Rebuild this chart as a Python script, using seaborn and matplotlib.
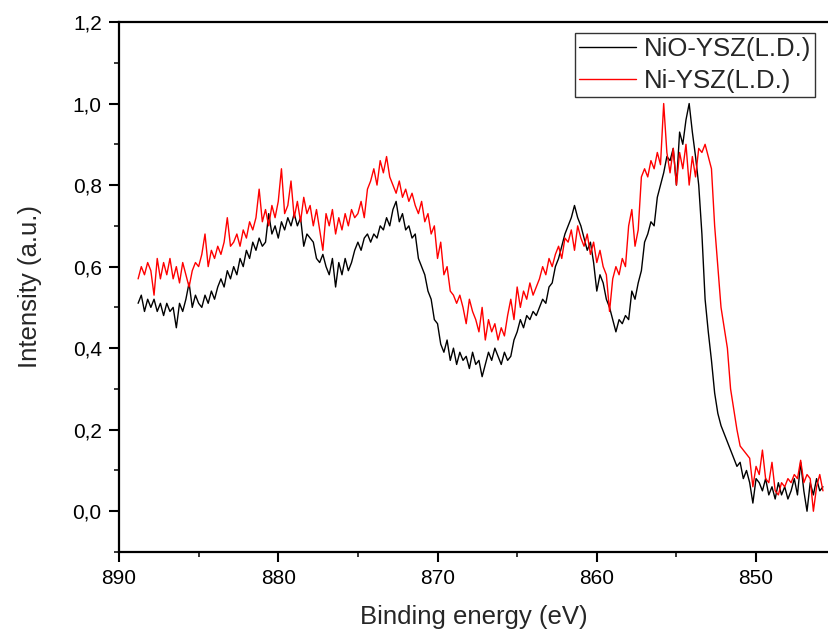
import numpy as np
import pandas as pd
import matplotlib
matplotlib.use("Agg")
import matplotlib.pyplot as plt
from matplotlib.ticker import MultipleLocator, FuncFormatter
import seaborn as sns

# Binding energy grid (eV), 0.2 eV step from 888.8 down to 845.8
energy = np.round(888.8 - 0.2 * np.arange(216), 1)

nio_ysz = [
    0.51, 0.53, 0.49, 0.52, 0.50, 0.52, 0.49, 0.51, 0.48, 0.51,
    0.49, 0.50, 0.45, 0.51, 0.49, 0.52, 0.56, 0.50, 0.53, 0.51,
    0.50, 0.53, 0.51, 0.54, 0.52, 0.55, 0.57, 0.55, 0.59, 0.57,
    0.60, 0.58, 0.62, 0.60, 0.64, 0.62, 0.66, 0.64, 0.67, 0.65,
    0.66, 0.73, 0.68, 0.70, 0.67, 0.71, 0.69, 0.72, 0.70, 0.73,
    0.70, 0.72, 0.65, 0.68, 0.67, 0.66, 0.62, 0.61, 0.63, 0.60,
    0.58, 0.62, 0.55, 0.61, 0.58, 0.62, 0.59, 0.61, 0.64, 0.66,
    0.64, 0.67, 0.68, 0.66, 0.68, 0.67, 0.70, 0.69, 0.72, 0.70,
    0.74, 0.76, 0.71, 0.73, 0.69, 0.70, 0.67, 0.68, 0.62, 0.60,
    0.58, 0.54, 0.52, 0.47, 0.46, 0.41, 0.39, 0.42, 0.37, 0.40,
    0.36, 0.39, 0.37, 0.38, 0.35, 0.39, 0.36, 0.37, 0.33, 0.36,
    0.39, 0.37, 0.40, 0.38, 0.36, 0.39, 0.37, 0.38, 0.42, 0.44,
    0.47, 0.45, 0.48, 0.47, 0.49, 0.48, 0.50, 0.52, 0.51, 0.55,
    0.56, 0.60, 0.62, 0.65, 0.68, 0.70, 0.72, 0.75, 0.72, 0.70,
    0.67, 0.64, 0.66, 0.61, 0.54, 0.58, 0.56, 0.52, 0.50, 0.47,
    0.44, 0.47, 0.46, 0.48, 0.47, 0.54, 0.52, 0.56, 0.59, 0.66,
    0.68, 0.71, 0.70, 0.77, 0.80, 0.83, 0.87, 0.86, 0.89, 0.80,
    0.93, 0.90, 0.96, 1.00, 0.93, 0.87, 0.80, 0.68, 0.52, 0.44,
    0.37, 0.29, 0.24, 0.21, 0.19, 0.17, 0.15, 0.13, 0.11, 0.12,
    0.08, 0.10, 0.07, 0.02, 0.08, 0.07, 0.05, 0.08, 0.04, 0.06,
    0.03, 0.07, 0.04, 0.06, 0.03, 0.05, 0.08, 0.04, 0.12, 0.05,
    0.00, 0.07, 0.04, 0.08, 0.05, 0.06,
]

ni_ysz = [
    0.57, 0.60, 0.58, 0.61, 0.59, 0.53, 0.62, 0.57, 0.61, 0.58,
    0.62, 0.57, 0.60, 0.56, 0.61, 0.58, 0.55, 0.59, 0.61, 0.60,
    0.63, 0.68, 0.60, 0.64, 0.62, 0.65, 0.63, 0.66, 0.72, 0.65,
    0.66, 0.68, 0.65, 0.69, 0.67, 0.71, 0.69, 0.72, 0.79, 0.71,
    0.74, 0.70, 0.75, 0.72, 0.76, 0.84, 0.73, 0.75, 0.81, 0.72,
    0.76, 0.71, 0.77, 0.73, 0.75, 0.70, 0.74, 0.69, 0.64, 0.73,
    0.70, 0.74, 0.68, 0.72, 0.69, 0.73, 0.70, 0.74, 0.72, 0.73,
    0.76, 0.72, 0.79, 0.81, 0.84, 0.80, 0.86, 0.83, 0.87, 0.82,
    0.80, 0.78, 0.81, 0.77, 0.79, 0.76, 0.78, 0.75, 0.73, 0.76,
    0.71, 0.73, 0.68, 0.70, 0.62, 0.66, 0.58, 0.60, 0.54, 0.53,
    0.51, 0.53, 0.50, 0.46, 0.52, 0.49, 0.47, 0.44, 0.50, 0.42,
    0.47, 0.44, 0.46, 0.42, 0.45, 0.43, 0.48, 0.52, 0.47, 0.55,
    0.50, 0.54, 0.52, 0.56, 0.53, 0.55, 0.57, 0.60, 0.58, 0.62,
    0.60, 0.63, 0.65, 0.62, 0.67, 0.66, 0.69, 0.64, 0.70, 0.67,
    0.65, 0.68, 0.63, 0.66, 0.61, 0.64, 0.60, 0.58, 0.49, 0.57,
    0.60, 0.58, 0.62, 0.60, 0.70, 0.74, 0.65, 0.69, 0.82, 0.84,
    0.82, 0.86, 0.84, 0.88, 0.85, 1.00, 0.88, 0.83, 0.89, 0.80,
    0.88, 0.84, 0.90, 0.80, 0.87, 0.82, 0.89, 0.88, 0.90, 0.87,
    0.84, 0.70, 0.60, 0.50, 0.45, 0.40, 0.30, 0.25, 0.20, 0.16,
    0.15, 0.14, 0.13, 0.06, 0.11, 0.09, 0.15, 0.08, 0.07, 0.12,
    0.05, 0.04, 0.07, 0.06, 0.08, 0.07, 0.09, 0.08, 0.125, 0.07,
    0.09, 0.08, 0.00, 0.06, 0.09, 0.05,
]

series_names = ["NiO-YSZ(L.D.)", "Ni-YSZ(L.D.)"]
series_colors = ["#000000", "#ff0000"]
x_label = "Binding energy (eV)"
y_label = "Intensity (a.u.)"

df = pd.concat([
    pd.DataFrame({"E": energy, "I": nio_ysz, "s": series_names[0]}),
    pd.DataFrame({"E": energy, "I": ni_ysz, "s": series_names[1]}),
])

sns.set_style("ticks")
plt.rcParams["font.family"] = ["Liberation Sans", "DejaVu Sans"]

fig = plt.figure(figsize=(8.29, 6.34), dpi=100)
ax = fig.add_axes([119 / 829, 1 - 552 / 634, 1 - 119 / 829, 530 / 634])

sns.lineplot(data=df, x="E", y="I", hue="s", palette=series_colors,
             hue_order=series_names, linewidth=1.0, ax=ax, sort=False,
             estimator=None)

ax.set_xlim(890, 845.42)
ax.set_ylim(-0.1, 1.2)
ax.xaxis.set_major_locator(MultipleLocator(10))
ax.xaxis.set_minor_locator(MultipleLocator(5))
ax.yaxis.set_major_locator(MultipleLocator(0.2))
ax.yaxis.set_minor_locator(MultipleLocator(0.1))
ax.yaxis.set_major_formatter(FuncFormatter(lambda v, p: f"{v:.1f}".replace(".", ",")))
ax.xaxis.set_major_formatter(FuncFormatter(lambda v, p: f"{v:.0f}"))

for side in ["left", "bottom", "top"]:
    ax.spines[side].set_linewidth(1.6)
    ax.spines[side].set_color("black")
ax.spines["right"].set_visible(False)
ax.tick_params(axis="both", which="major", direction="out", length=7,
               width=1.5, labelsize=15, colors="black", pad=5.5)
ax.tick_params(axis="both", which="minor", direction="out", length=3.5,
               width=1.3)

ax.set_xlabel(x_label, fontsize=18.5, labelpad=12)
ax.set_ylabel(y_label, fontsize=18.5, labelpad=22)

leg = ax.legend(loc="upper right", bbox_to_anchor=(0.98, 0.979),
                borderaxespad=0, fontsize=18.5, frameon=True, fancybox=False,
                handlelength=2.2, handletextpad=0.3, borderpad=0.15,
                labelspacing=0.32, title=None)
leg.get_frame().set_edgecolor("black")
leg.get_frame().set_linewidth(1.0)
for line in leg.get_lines():
    line.set_linewidth(1.0)

fig.savefig("out.png", dpi=100)
